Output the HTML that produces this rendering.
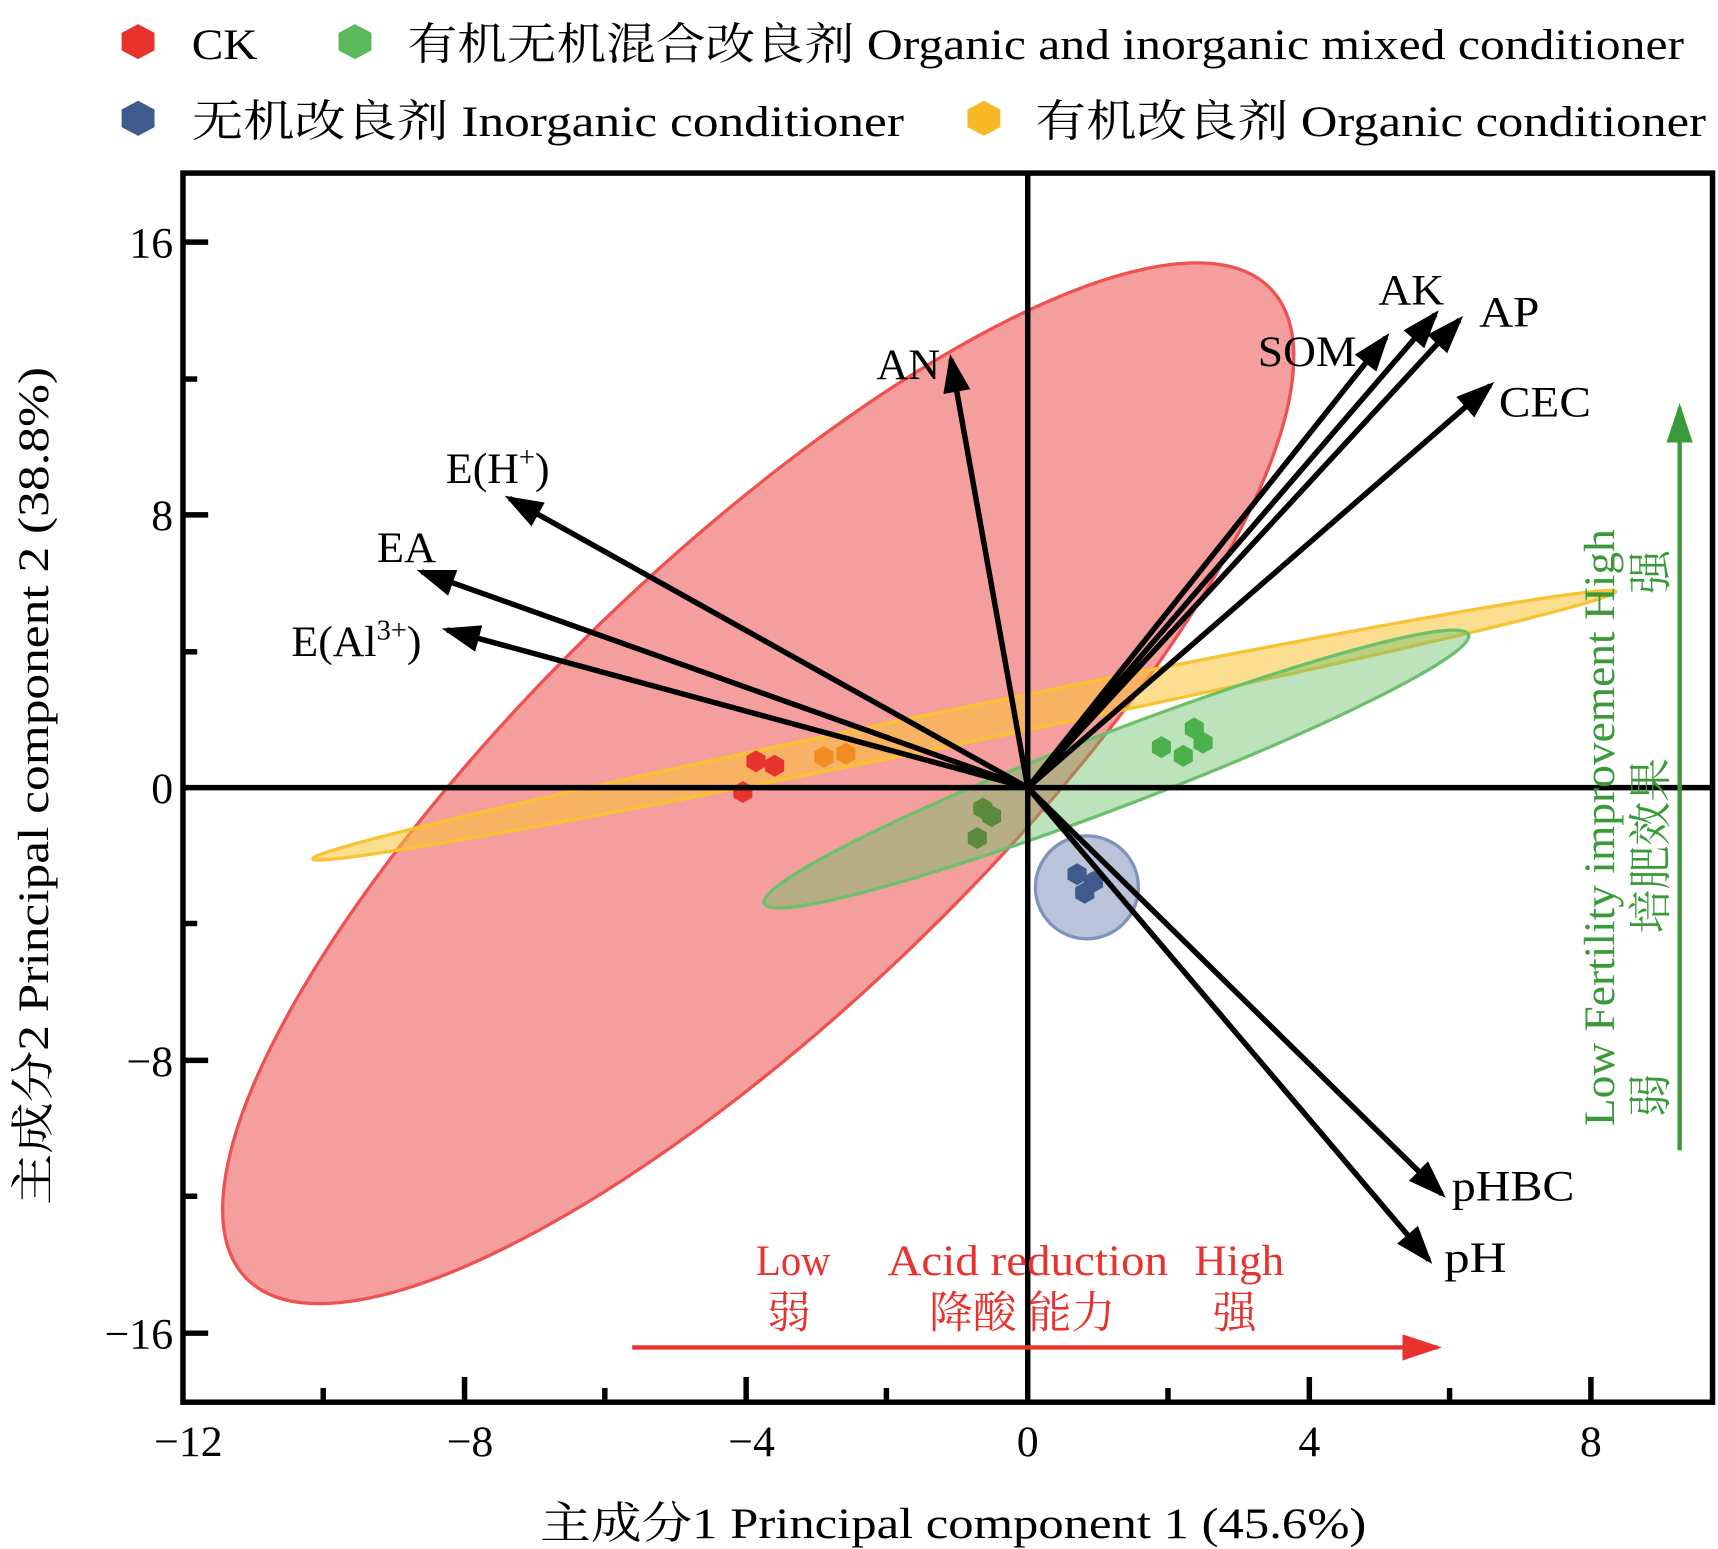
<!DOCTYPE html>
<html><head><meta charset="utf-8"><style>html,body{margin:0;padding:0;background:#fff}svg{display:block}text{font-family:"Liberation Serif","Noto Serif CJK SC",serif}</style></head>
<body>
<svg width="1718" height="1549" viewBox="0 0 1568 1414" preserveAspectRatio="none" xmlns="http://www.w3.org/2000/svg">
<defs>
<marker id="ah" markerWidth="7" markerHeight="5" refX="6" refY="2.5" orient="auto" markerUnits="strokeWidth"><path d="M0,0 L7,2.5 L0,5 Z" fill="#000"/></marker>
<marker id="ar" markerWidth="9" markerHeight="6" refX="8" refY="3" orient="auto" markerUnits="strokeWidth"><path d="M0,0 L9,3 L0,6 Z" fill="#e8322e"/></marker>
<marker id="ag" markerWidth="9" markerHeight="6" refX="8" refY="3" orient="auto" markerUnits="strokeWidth"><path d="M0,0 L9,3 L0,6 Z" fill="#3a9a3a"/></marker>
<symbol id="hx" viewBox="-10 -10 20 20"><polygon points="0,-10 8.7,-5 8.7,5 0,10 -8.7,5 -8.7,-5"/></symbol>
</defs>
<g font-size="40">
<polygon fill="#e8322e" points="126,22 141,30 141,46 126,54 111,46 111,30"/>
<text x="175" y="54" textLength="60" lengthAdjust="spacingAndGlyphs">CK</text>
<polygon fill="#5cb85c" points="324,22 339,30 339,46 324,54 309,46 309,30"/>
<text x="372" y="54" textLength="1165" lengthAdjust="spacingAndGlyphs">有机无机混合改良剂 Organic and inorganic mixed conditioner</text>
<polygon fill="#3f5a8c" points="126,92 141,100 141,116 126,124 111,116 111,100"/>
<text x="175" y="124" textLength="650" lengthAdjust="spacingAndGlyphs">无机改良剂  Inorganic  conditioner</text>
<polygon fill="#f7b928" points="898,92 913,100 913,116 898,124 883,116 883,100"/>
<text x="945" y="124" textLength="612" lengthAdjust="spacingAndGlyphs">有机改良剂  Organic conditioner</text>
</g>
<ellipse cx="692" cy="715" rx="650" ry="205" transform="rotate(-44 692 715)" fill="#ef6a6a" fill-opacity="0.65" stroke="#ef5050" stroke-width="3"/>
<ellipse cx="880" cy="662" rx="607" ry="16" transform="rotate(-11.6 880 662)" fill="#f8c233" fill-opacity="0.55" stroke="#f8c233" stroke-width="3"/>
<ellipse cx="1019" cy="702" rx="344" ry="34" transform="rotate(-20.9 1019 702)" fill="#6cc06c" fill-opacity="0.45" stroke="#6cc06c" stroke-width="3"/>
<circle cx="992" cy="810" r="47" fill="#8a9bc0" fill-opacity="0.6" stroke="#7f93bd" stroke-width="3"/>
<g fill="#e8322e"><use href="#hx" x="680" y="685" width="20" height="20"/><use href="#hx" x="697" y="689" width="20" height="20"/><use href="#hx" x="668" y="713" width="20" height="20"/></g>
<g fill="#f08c20"><use href="#hx" x="742" y="681" width="20" height="20"/><use href="#hx" x="762" y="678" width="20" height="20"/></g>
<g fill="#4cb04c"><use href="#hx" x="1050" y="672" width="20" height="20"/><use href="#hx" x="1070" y="680" width="20" height="20"/><use href="#hx" x="1080" y="655" width="20" height="20"/><use href="#hx" x="1088" y="668" width="20" height="20"/></g>
<g fill="#5a8a3a"><use href="#hx" x="887" y="728" width="20" height="20"/><use href="#hx" x="895" y="735" width="20" height="20"/><use href="#hx" x="882" y="755" width="20" height="20"/></g>
<g fill="#3f5a8c"><use href="#hx" x="973" y="788" width="20" height="20"/><use href="#hx" x="980" y="805" width="20" height="20"/><use href="#hx" x="988" y="795" width="20" height="20"/></g>
<rect x="167" y="158" width="1396" height="1122" fill="none" stroke="#000" stroke-width="5"/>
<line x1="938" y1="158" x2="938" y2="1280" stroke="#000" stroke-width="5"/>
<line x1="167" y1="719" x2="1563" y2="719" stroke="#000" stroke-width="5"/>
<g stroke="#000" stroke-width="5">
<line x1="167" y1="221" x2="190" y2="221"/><line x1="167" y1="470" x2="190" y2="470"/><line x1="167" y1="968" x2="190" y2="968"/><line x1="167" y1="1217" x2="190" y2="1217"/>
<line x1="167" y1="346" x2="180" y2="346"/><line x1="167" y1="595" x2="180" y2="595"/><line x1="167" y1="843" x2="180" y2="843"/><line x1="167" y1="1092" x2="180" y2="1092"/>
<line x1="424" y1="1280" x2="424" y2="1257"/><line x1="681" y1="1280" x2="681" y2="1257"/><line x1="1195" y1="1280" x2="1195" y2="1257"/><line x1="1452" y1="1280" x2="1452" y2="1257"/>
<line x1="295" y1="1280" x2="295" y2="1267"/><line x1="552" y1="1280" x2="552" y2="1267"/><line x1="809" y1="1280" x2="809" y2="1267"/><line x1="1066" y1="1280" x2="1066" y2="1267"/><line x1="1323" y1="1280" x2="1323" y2="1267"/>
</g>
<g font-size="40" text-anchor="end">
<text x="158" y="235">16</text><text x="158" y="484">8</text><text x="158" y="733">0</text><text x="158" y="982">−8</text><text x="158" y="1231">−16</text>
</g>
<g font-size="40" text-anchor="middle">
<text x="172" y="1329">−12</text><text x="429" y="1329">−8</text><text x="686" y="1329">−4</text><text x="938" y="1329">0</text><text x="1195" y="1329">4</text><text x="1452" y="1329">8</text>
</g>
<text x="493" y="1404" font-size="40" textLength="754" lengthAdjust="spacingAndGlyphs">主成分1 Principal component 1 (45.6%)</text>
<text transform="translate(44 1100) rotate(-90)" font-size="40" textLength="765" lengthAdjust="spacingAndGlyphs">主成分2 Principal component 2 (38.8%)</text>
<g stroke="#000" stroke-width="5" marker-end="url(#ah)">
<line x1="938" y1="719" x2="868" y2="328"/>
<line x1="938" y1="719" x2="465" y2="455"/>
<line x1="938" y1="719" x2="385" y2="522"/>
<line x1="938" y1="719" x2="408" y2="575"/>
<line x1="938" y1="719" x2="1265" y2="308"/>
<line x1="938" y1="719" x2="1310" y2="287"/>
<line x1="938" y1="719" x2="1332" y2="292"/>
<line x1="938" y1="719" x2="1360" y2="352"/>
<line x1="938" y1="719" x2="1316" y2="1090"/>
<line x1="938" y1="719" x2="1304" y2="1150"/>
</g>
<g font-size="40" lengthAdjust="spacingAndGlyphs">
<text x="800" y="346" textLength="58" lengthAdjust="spacingAndGlyphs">AN</text>
<text x="407" y="441">E(H<tspan font-size="26" dy="-15">+</tspan><tspan dy="15">)</tspan></text>
<text x="344" y="513" textLength="54" lengthAdjust="spacingAndGlyphs">EA</text>
<text x="266" y="599">E(Al<tspan font-size="26" dy="-15">3+</tspan><tspan dy="15">)</tspan></text>
<text x="1148" y="334" textLength="90" lengthAdjust="spacingAndGlyphs">SOM</text>
<text x="1258" y="278" textLength="60" lengthAdjust="spacingAndGlyphs">AK</text>
<text x="1350" y="298" textLength="55" lengthAdjust="spacingAndGlyphs">AP</text>
<text x="1368" y="380" textLength="84" lengthAdjust="spacingAndGlyphs">CEC</text>
<text x="1325" y="1096" textLength="112" lengthAdjust="spacingAndGlyphs">pHBC</text>
<text x="1318" y="1161" textLength="57" lengthAdjust="spacingAndGlyphs">pH</text>
</g>
<line x1="577" y1="1230" x2="1312" y2="1230" stroke="#e8322e" stroke-width="4" marker-end="url(#ar)"/>
<g font-size="40" fill="#e8322e">
<text x="690" y="1164" textLength="68" lengthAdjust="spacingAndGlyphs">Low</text><text x="700" y="1212">弱</text>
<text x="810" y="1164" textLength="256" lengthAdjust="spacingAndGlyphs">Acid reduction</text><text x="848" y="1212">降酸 能力</text>
<text x="1090" y="1164" textLength="82" lengthAdjust="spacingAndGlyphs">High</text><text x="1107" y="1212">强</text>
</g>
<line x1="1533" y1="1050" x2="1533" y2="372" stroke="#3a9a3a" stroke-width="4" marker-end="url(#ag)"/>
<g font-size="40" fill="#3a9a3a">
<text transform="translate(1473 1028) rotate(-90)" textLength="545" lengthAdjust="spacingAndGlyphs">Low Fertility improvement High</text>
<text transform="translate(1520 1020) rotate(-90)">弱</text>
<text transform="translate(1520 852) rotate(-90)">培肥效果</text>
<text transform="translate(1520 542) rotate(-90)">强</text>
</g>
</svg>
</body></html>
